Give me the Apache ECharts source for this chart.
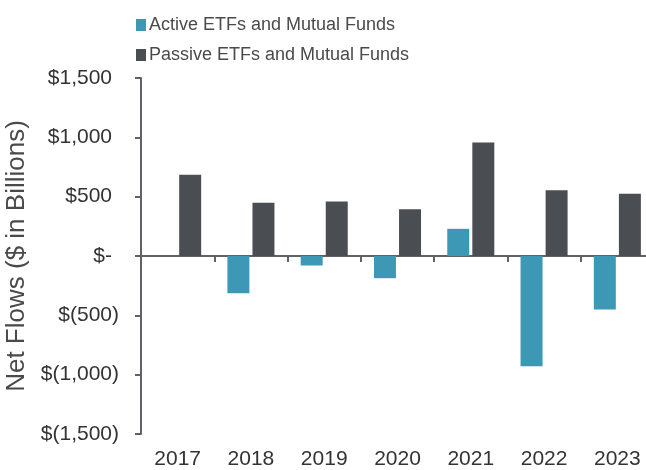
<!DOCTYPE html>
<html>
<head>
<meta charset="utf-8">
<script src="https://cdn.jsdelivr.net/npm/echarts@6/dist/echarts.min.js"></script>
<style>
  html, body { margin: 0; padding: 0; background: #fff; }
  #main { width: 646px; height: 470px; }
</style>
</head>
<body>
<div id="main"></div>
<script>
// 数据
const years = ['2017', '2018', '2019', '2020', '2021', '2022', '2023'];
const activeFlows = [0, -314, -80, -187, 229, -929, -451];
const passiveFlows = [685, 449, 460, 395, 957, 555, 524];
const seriesNames = ['Active ETFs and Mutual Funds', 'Passive ETFs and Mutual Funds'];

const chart = echarts.init(document.getElementById('main'), null, { renderer: 'canvas' });

// 会计格式：正数后面留一个透明的 ")" 对齐
function fmtDollar(v) {
  if (v === 0) return '$-{h|)}';
  const s = Math.abs(v).toLocaleString('en-US');
  return v < 0 ? '$(' + s + ')' : '$' + s + '{h|)}';
}

const axisGrey = '#5f6266';

const option = {
  backgroundColor: '#fff',
  color: ['#3d98b6', '#4a4d52'],
  textStyle: { fontFamily: 'Liberation Sans, Arial, sans-serif' },
  legend: {
    data: seriesNames,
    orient: 'vertical',
    left: 136,
    top: 16,
    padding: 0,
    itemWidth: 10,
    itemHeight: 12,
    itemGap: 12,
    icon: 'rect',
    textStyle: { fontSize: 18, color: '#4a4a4a', padding: [0, 0, 0, -2] }
  },
  grid: { left: 141, right: -8, top: 78, bottom: 36, outerBoundsMode: 'none', containLabel: false },
  xAxis: [
    {
      // 零线 + 刻度
      type: 'category',
      data: years,
      axisLine: { onZero: true, lineStyle: { color: axisGrey, width: 2 } },
      axisTick: { show: true, length: 6, lineStyle: { color: axisGrey, width: 2 } },
      axisLabel: { show: false }
    },
    {
      // 底部标签
      type: 'category',
      data: years,
      position: 'bottom',
      axisLine: { show: false, onZero: false },
      axisTick: { show: false },
      axisLabel: { fontSize: 21, color: '#333', margin: 15, interval: 0 }
    }
  ],
  yAxis: {
    type: 'value',
    min: -1500,
    max: 1500,
    interval: 500,
    name: 'Net Flows ($ in Billions)',
    nameLocation: 'middle',
    nameGap: 85,
    nameTextStyle: { fontSize: 26, color: '#4a4a4a' },
    axisLine: { show: true, lineStyle: { color: axisGrey, width: 2 } },
    axisTick: { show: true, length: 6, lineStyle: { color: axisGrey, width: 2 } },
    splitLine: { show: false },
    axisLabel: {
      fontSize: 21,
      color: '#333',
      margin: 22,
      formatter: fmtDollar,
      rich: { h: { fontSize: 21, color: 'rgba(0,0,0,0)' } }
    }
  },
  series: [
    {
      name: seriesNames[0],
      type: 'bar',
      data: activeFlows,
      barWidth: '30%',
      barGap: '14%'
    },
    {
      name: seriesNames[1],
      type: 'bar',
      data: passiveFlows,
      barWidth: '30%',
      barGap: '14%'
    }
  ]
};

chart.setOption(option);
</script>
</body>
</html>
